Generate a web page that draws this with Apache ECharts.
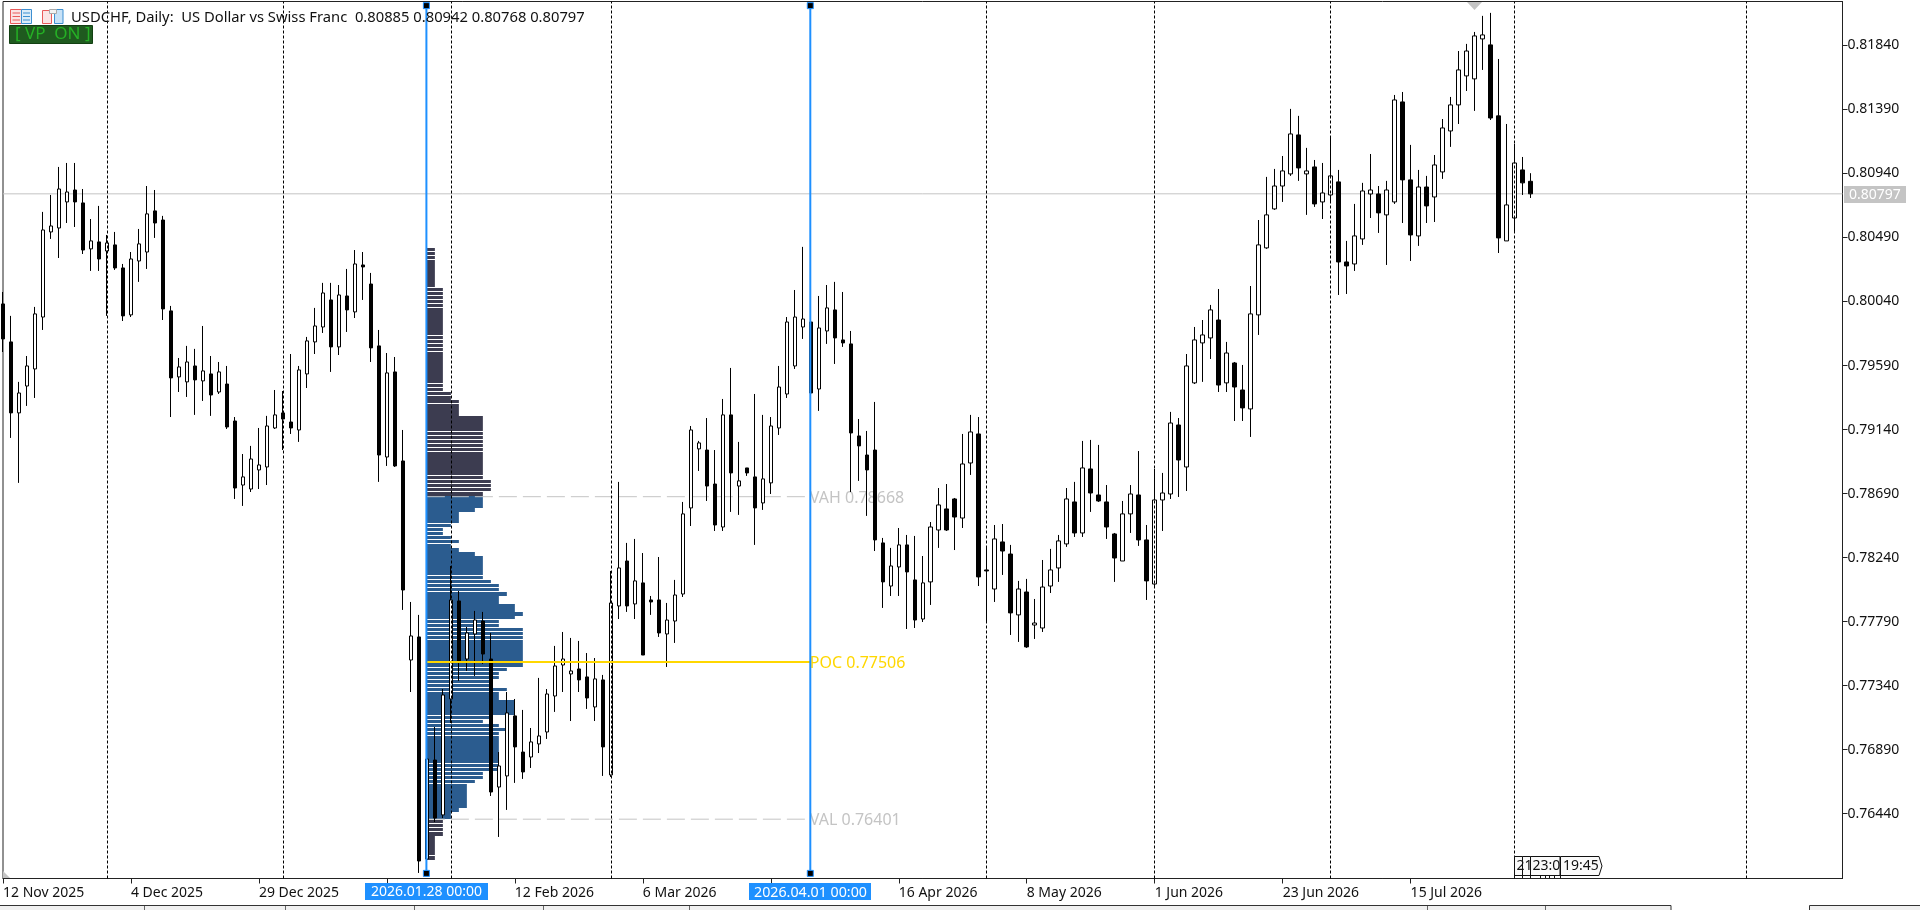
<!DOCTYPE html>
<html><head><meta charset="utf-8">
<script src="https://cdn.jsdelivr.net/npm/echarts@6/dist/echarts.min.js"></script>
<style>html,body{margin:0;padding:0;background:#fff}#c{width:1920px;height:910px}</style>
</head><body><div id="c"></div>
<script>
const opens=[.80023,.79756,.79257,.79446,.79566,.79931,.80529,.80557,.80740,.80824,.80733,.80410,.80459,.80395,.80438,.80276,.79946,.80325,.80388,.80677,.80613,.79974,.79510,.79475,.79587,.79482,.79531,.79404,.79460,.79200,.78750,.78722,.78856,.78877,.79151,.79257,.79193,.79137,.79531,.79756,.79861,.80051,.79721,.80079,.79967,.80297,.80163,.79728,.78947,.79545,.78919,.77520,.77682,.76121,.76817,.76431,.77246,.77935,.77527,.77703,.77794,.77527,.76627,.76705,.77127,.76873,.76838,.76930,.77014,.77267,.77485,.77422,.77457,.77401,.77190,.77380,.76712,.77900,.78216,.77914,.78062,.77942,.77942,.77703,.77794,.77984,.78589,.79004,.78996,.78757,.78455,.79243,.78743,.78870,.78807,.78624,.78765,.79151,.79390,.79587,.79861,.79896,.79425,.79833,.79981,.79770,.79742,.79095,.78961,.78996,.78343,.78040,.78174,.78329,.78083,.77808,.78069,.78434,.78582,.78652,.78518,.78905,.79109,.78153,.78019,.78350,.78265,.77837,.77998,.77766,.77745,.78040,.78167,.78336,.78631,.78413,.78863,.78680,.78631,.78406,.78216,.78547,.78680,.78364,.78054,.78645,.78687,.79172,.78877,.79468,.79749,.79784,.79910,.79468,.79608,.79418,.79285,.79946,.80417,.80691,.80852,.80937,.81211,.80937,.80986,.80740,.80789,.80881,.80318,.80304,.80480,.80796,.80796,.80649,.80740,.81443,.80895,.80501,.80845,.80775,.80951,.81239,.81422,.81626,.81605,.81886,.81844,.81345,.80466,.80627,.80965,.80885];
const closes=[.79777,.79257,.79397,.79587,.79953,.80543,.80571,.80831,.80810,.80740,.80402,.80466,.80339,.80452,.80276,.79939,.80339,.80445,.80656,.80592,.79988,.79503,.79580,.79615,.79489,.79552,.79383,.79545,.79158,.78729,.78807,.78933,.78891,.79165,.79243,.79214,.79151,.79559,.79763,.79868,.80100,.79721,.80086,.79981,.80304,.80283,.79714,.78961,.79538,.78884,.78012,.77689,.76107,.76824,.76409,.77274,.77942,.77506,.77710,.77801,.77562,.76592,.76775,.77148,.76909,.76733,.76944,.76986,.77281,.77478,.77527,.77443,.77380,.77253,.77387,.76909,.77921,.78167,.77900,.78076,.77555,.77928,.77710,.77801,.77977,.78547,.79137,.79046,.78743,.78469,.79243,.78835,.78779,.78835,.78589,.78793,.79165,.79439,.79896,.79931,.79917,.79397,.79854,.79995,.79784,.79749,.79116,.79025,.78856,.78364,.78069,.78181,.78329,.78139,.77801,.78062,.78455,.78610,.78434,.78525,.78898,.79123,.78104,.78146,.78371,.78286,.77851,.78019,.77612,.77780,.78033,.78153,.78357,.78652,.78413,.78870,.78694,.78638,.78455,.78237,.78547,.78687,.78364,.78076,.78645,.78694,.79186,.78926,.79587,.79770,.79805,.79981,.79453,.79678,.79439,.79292,.79953,.80438,.80649,.80852,.80958,.81218,.80979,.80958,.80726,.80803,.80923,.80318,.80290,.80501,.80817,.80824,.80663,.80824,.81457,.80895,.80508,.80845,.80712,.81000,.81260,.81422,.81668,.81801,.81907,.81914,.81330,.80487,.80719,.81014,.80874,.80797];
const lows=[.79685,.79081,.78765,.79306,.79362,.79840,.80480,.80346,.80592,.80564,.80374,.80255,.80255,.79939,.80262,.79903,.79931,.80178,.80269,.80487,.79910,.79228,.79404,.79369,.79243,.79341,.79236,.79390,.79144,.78652,.78603,.78701,.78722,.78750,.79144,.78996,.79109,.79053,.79432,.79671,.79819,.79545,.79664,.79826,.79924,.80051,.79615,.78772,.78884,.78877,.77872,.77295,.76023,.76079,.76381,.76409,.77077,.77373,.77443,.77408,.77492,.76564,.76276,.76466,.76656,.76684,.76761,.76866,.76965,.77155,.77295,.77091,.77295,.77176,.77091,.76705,.76698,.77808,.77858,.77808,.77555,.77837,.77682,.77471,.77640,.77963,.78462,.78849,.78638,.78427,.78427,.78561,.78540,.78814,.78329,.78575,.78687,.79102,.79362,.79566,.79777,.79383,.79271,.79742,.79601,.79721,.78701,.78779,.78533,.78286,.77886,.77970,.77970,.77738,.77745,.77787,.77907,.78308,.78427,.78293,.78448,.78821,.78040,.77780,.77928,.78118,.77696,.77647,.77605,.77668,.77717,.77991,.78069,.78315,.78385,.78385,.78561,.78631,.78371,.78069,.78216,.78413,.78322,.77942,.78040,.78427,.78652,.78666,.78708,.79460,.79475,.79636,.79404,.79404,.79200,.79200,.79088,.79805,.80410,.80684,.80740,.80923,.80888,.80649,.80705,.80620,.80740,.80086,.80093,.80255,.80438,.80627,.80522,.80297,.80726,.80592,.80325,.80431,.80592,.80599,.80902,.81127,.81288,.81520,.81380,.81668,.81316,.80381,.80466,.80529,.80789,.80768];
const highs=[.80107,.79939,.79475,.79657,.80002,.80670,.80789,.80986,.81014,.81014,.80831,.80620,.80712,.80508,.80529,.80304,.80388,.80550,.80852,.80824,.80642,.80009,.79643,.79728,.79707,.79868,.79657,.79615,.79587,.79228,.78968,.79025,.79151,.79236,.79418,.79411,.79671,.79587,.79791,.79995,.80171,.80171,.80156,.80269,.80402,.80388,.80241,.79840,.79678,.79650,.79137,.77928,.77837,.76887,.77049,.77316,.78181,.78005,.77752,.77865,.77858,.77710,.76873,.77295,.77246,.77169,.77042,.77394,.77316,.77619,.77717,.77675,.77654,.77569,.77534,.77415,.78146,.78772,.78343,.78371,.78272,.77970,.78244,.77921,.78083,.78631,.79165,.79060,.79221,.78996,.79355,.79573,.79053,.78870,.79390,.79243,.79228,.79587,.79931,.80121,.80424,.79939,.80079,.80156,.80178,.80107,.79833,.79214,.79130,.79334,.78378,.78308,.78448,.78399,.78392,.78251,.78490,.78729,.78757,.78659,.79109,.79243,.79228,.78315,.78469,.78476,.78329,.78076,.78090,.77949,.78223,.78301,.78399,.78729,.78772,.79060,.79067,.79032,.78750,.78413,.78638,.78750,.78989,.78469,.78863,.78835,.79264,.79221,.79671,.79861,.79910,.80016,.80128,.79756,.79615,.79594,.80149,.80613,.80916,.80972,.81063,.81394,.81345,.81120,.81035,.81014,.81197,.80965,.80466,.80726,.80874,.81077,.80852,.80888,.81492,.81513,.81141,.80965,.80923,.81070,.81323,.81478,.81801,.81851,.81935,.82048,.82069,.81745,.81288,.81148,.81056,.80942];

// Volume profile: candles touching each price row, from the top row down
const vpCounts=[1,1,1,1,1,1,1,1,1,1,2,2,2,2,2,2,2,2,2,2,2,2,2,2,2,2,2,2,2,2,2,2,2,2,2,2,3,3,4,4,4,4,7,7,7,7,7,7,7,7,7,7,7,7,7,7,7,7,8,8,8,7,7,7,7,6,4,4,4,3,2,2,3,4,3,4,6,7,7,7,7,7,7,8,9,9,10,9,9,11,11,12,11,9,9,12,12,12,12,12,12,12,12,12,12,10,9,9,8,8,10,9,9,11,11,11,11,8,7,9,10,9,9,9,9,9,9,9,9,9,9,7,7,6,5,5,5,5,5,5,4,3,3,2,2,2,2,1,1,1,1,1,1];
const vpGapRows=[0,1,2,9,10,11,12,13,14,21,22,23,24,25,33,34,35,36,38,45,46,47,48,49,50,56,57,58,59,60,68,69,70,71,72,73,81,82,83,84,85,92,93,94,95,96,97,104,105,106,107,108,109,110,116,117,118,119,120,121,128,129,130,131,132,133,142,143,144,145,151];
const vpTopPrice=.80419, vpRowSize=.0002812, vpStartIndex=53, vpEndIndex=101;
const vah=.78668, poc=.77506, val=.76401, lastClose=.80797;

const priceTicks=[.7644,.7689,.7734,.7779,.7824,.7869,.7914,.7959,.8004,.8049,.8094,.8139,.8184];
const timeTickIndex=[0,16,32,48,64,80,96,112,128,144,160,176];
const timeTickLabels=['12 Nov 2025','4 Dec 2025','29 Dec 2025','','12 Feb 2026','6 Mar 2026','','16 Apr 2026','8 May 2026','1 Jun 2026','23 Jun 2026','15 Jul 2026'];
const periodSeparators=[13,35,56,76,123,144,166,189,218];
const blueLineA=52.94, blueLineB=100.94;
const priceMin=.75984, priceMax=.82149, handleTop=.8212, handleBottom=.7602;

const FONT='"Noto Sans"';
const chart=echarts.init(document.getElementById('c'),null,{renderer:'canvas'});
const candleData=opens.map((o,i)=>[i,o,closes[i],lows[i],highs[i]]);
const vpData=vpCounts.map((k,j)=>[vpTopPrice-j*vpRowSize,vpTopPrice-(j+1)*vpRowSize,k,j]);
const gapSet=new Set(vpGapRows);

function refLine(price,color,width,dash,z,text,name){
  return {type:'line',name,z,silent:true,showSymbol:false,symbol:'none',clip:false,
    data:[[vpStartIndex,price],[vpEndIndex,price]],
    lineStyle:{color,width,type:dash},
    endLabel:{show:true,formatter:text,color,fontFamily:FONT,fontSize:16,distance:0,offset:[-1,1.5]}};
}
function blueLine(x){
  return {type:'line',z:8,silent:true,clip:false,symbol:'rect',symbolSize:6,showSymbol:true,
    data:[[x,handleBottom],[x,handleTop]],
    lineStyle:{color:'#1E90FF',width:2},
    itemStyle:{color:'#000',borderColor:'#1E90FF',borderWidth:1}};
}

const g=[];
function rect(x,y,w,h,fill,stroke,z){g.push({type:'rect',silent:true,z:z||20,shape:{x,y,width:w,height:h},style:{fill:fill||'none',stroke:stroke||'none',lineWidth:1}});}
function text(x,y,t,color,size,opt){g.push({type:'text',silent:true,z:21,x,y,style:Object.assign({text:t,fill:color,font:(size)+'px '+FONT,textVerticalAlign:'middle'},opt||{})});}
function line(x1,y1,x2,y2,color,z){g.push({type:'line',silent:true,z:z||21,shape:{x1,y1,x2,y2},style:{stroke:color,lineWidth:1}});}

// header icons
rect(10.5,9.5,11,14,'#fbe4e4','#e85a5a');rect(21.5,9.5,10,14,'#dcecf9','#3d8fd1');
[13,16.5,20].forEach(y=>{line(12.5,y,20,y,'#e85a5a');line(23,y,30,y,'#3d8fd1');});
rect(42.5,10.5,9,13,'#fbe4e4','#e85a5a');rect(54.5,9.5,8.5,14,'#c8e2f7','#3d8fd1');rect(49.5,9.5,7,4,'#f2f2f2','#aaaaaa');
// title + VP badge
text(71,18,'USDCHF, Daily:  US Dollar vs Swiss Franc  0.80885 0.80942 0.80768 0.80797','#111',14.75);
rect(9.5,25.5,83,18,'#1f5a1f','#124012');
text(15,34,'[ VP  ON ]','#25b025',17);
// markers
g.push({type:'polygon',silent:true,z:20,shape:{points:[[1467,2],[1482,2],[1474.5,10]]},style:{fill:'#c4c4c4'}});
g.push({type:'polygon',silent:true,z:20,shape:{points:[[3,871],[3,878],[10,878]]},style:{fill:'#c4c4c4'}});
// blue time labels
rect(365,883,123,17,'#1E90FF');text(371,892.5,'2026.01.28 00:00','#fff',14);
rect(749,883,122,17,'#1E90FF');text(754,892.5,'2026.04.01 00:00','#fff',14.25);
// last price box
rect(1844,186,62,17,'#c4c4c4');text(1849,195,'0.80797','#fff',14);
// session time tags
[[1514.5,8,'2'],[1522.5,8,'1'],[1530.5,29.5,'23:0']].forEach(b=>{
  rect(b[0],856.5,b[1],19,'#fafafa','#111');line(b[0],875,b[0],878,'#111');
  text(b[0]+2,866.5,b[2],'#111',14);
});
g.push({type:'polygon',silent:true,z:20,shape:{points:[[1560.5,856.5],[1599,856.5],[1602,866],[1599,875.5],[1560.5,875.5]]},style:{fill:'#fafafa',stroke:'#111',lineWidth:1}});
line(1560.5,875,1560.5,878,'#111');
text(1563,866.5,'19:45','#111',14);
[1540.5,1545.5,1549.5,1554.5].forEach(x=>line(x,875,x,878,'#111'));
// bottom tab strip
rect(-1,905.5,1672,10,'#f0f0f0','#333');
rect(1809.5,905.5,120,10,'#f0f0f0','#333');
[144.5,285.5,414.5,543.5,689.5,1427.5,1545.5].forEach(x=>line(x,906,x,910,'#666'));

chart.setOption({
  animation:false,backgroundColor:'#fff',
  grid:{left:2.5,right:77.5,top:1.5,bottom:31.5,show:true,borderColor:'#222',borderWidth:1,backgroundColor:'#fff'},
  xAxis:{type:'value',min:0,max:230,splitLine:{show:false},
    axisLine:{show:true,onZero:false,lineStyle:{color:'#222'}},
    axisTick:{show:true,length:5,lineStyle:{color:'#222'},customValues:timeTickIndex},
    axisLabel:{show:true,customValues:timeTickIndex,align:'left',margin:7.5,color:'#111',fontFamily:FONT,fontSize:14,
      formatter:v=>timeTickLabels[timeTickIndex.indexOf(v)]||''}},
  yAxis:{type:'value',position:'right',min:priceMin,max:priceMax,splitLine:{show:false},scale:true,
    axisLine:{show:true,onZero:false,lineStyle:{color:'#222'}},
    axisTick:{show:true,length:5,lineStyle:{color:'#222'},customValues:priceTicks},
    axisLabel:{show:true,customValues:priceTicks,margin:5,padding:[3,0,0,0],color:'#111',fontFamily:FONT,fontSize:14,
      formatter:v=>v.toFixed(5)}},
  graphic:g,
  series:[
    {type:'custom',z:1,silent:true,clip:true,coordinateSystem:'cartesian2d',data:vpData,
      encode:{y:[0,1],x:2},
      renderItem:(p,api)=>{
        const a=api.coord([vpStartIndex,api.value(0)]);
        const b=api.coord([vpStartIndex+api.value(2),api.value(1)]);
        const j=api.value(3);
        const top=Math.round(a[1]);
        const inVA=api.value(0)<=vah+vpRowSize/2&&api.value(0)>=val;
        return {type:'rect',shape:{x:a[0],y:top,width:b[0]-a[0],height:Math.round(b[1])-top-(gapSet.has(j)?1:0)},
          style:{fill:inVA?'#2b5c8f':'#3c3c50'}};
      }},
    {type:'line',z:2,silent:true,data:[],markLine:{silent:true,symbol:'none',animation:false,label:{show:false},
      lineStyle:{color:'#000',type:[3,2],width:1},data:periodSeparators.map(x=>({xAxis:x}))}},
    refLine(vah,'#c4c4c4',1,[18,6],2,'VAH 0.78668','VAH'),
    refLine(val,'#c4c4c4',1,[18,6],2,'VAL 0.76401','VAL'),
    {type:'line',z:2,silent:true,showSymbol:false,symbol:'none',data:[[0,lastClose],[230,lastClose]],lineStyle:{color:'#c4c4c4',width:1}},
    {type:'candlestick',z:3,silent:true,clip:true,barWidth:4,data:candleData,
      itemStyle:{color:'#fff',color0:'#000',borderColor:'#000',borderColor0:'#000',borderWidth:1}},
    refLine(poc,'#FFD700',2,'solid',5,'POC 0.77506','POC'),
    blueLine(blueLineA),
    blueLine(blueLineB)
  ]
});
</script></body></html>
